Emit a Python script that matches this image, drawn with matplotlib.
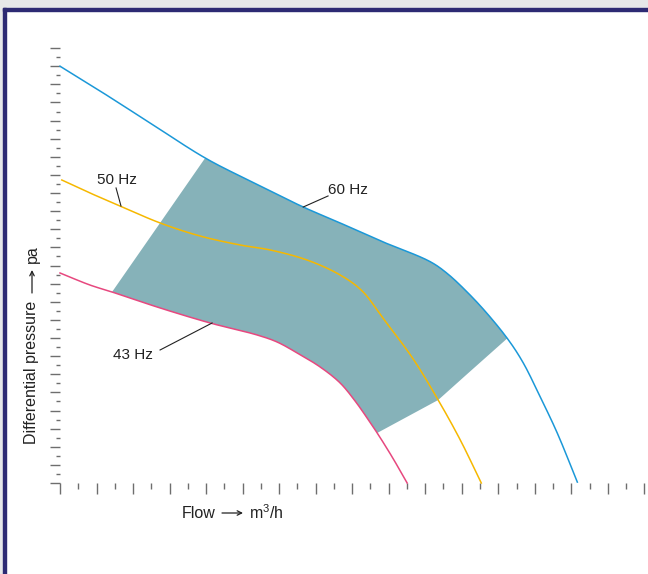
import numpy as np
import matplotlib
matplotlib.use("Agg")
import matplotlib.pyplot as plt
from matplotlib.patches import Rectangle

# pump curves, flow (x) vs differential pressure (y), in tick units
flow_60 = [0.0, 2.19, 4.93, 7.95, 10.41, 13.32, 15.34, 17.53,
           20.27, 21.19, 22.28, 23.38, 24.56, 25.37, 26.30, 27.23, 28.33]
dp_60 = [46.0, 43.27, 39.74, 35.87, 33.33, 30.46, 28.70, 26.74,
         24.43, 23.15, 21.11, 18.73, 15.78, 13.25, 9.49, 5.52, 0.1]

flow_50 = [0.1, 1.64, 3.29, 5.48, 7.67, 9.86, 11.51, 13.53, 15.34, 16.55, 17.64,
           19.34, 20.71, 21.92, 23.07]
dp_50 = [33.44, 32.01, 30.57, 28.70, 27.26, 26.27, 25.72, 24.61, 22.96, 21.19, 18.32,
         13.69, 9.16, 4.75, 0.0]

flow_43 = [0.0, 1.64, 2.85, 5.48, 8.22, 10.79, 11.89, 12.99, 14.25, 15.34, 16.16,
           16.82, 17.37, 18.19, 19.01]
dp_43 = [23.18, 21.85, 21.08, 19.32, 17.66, 16.34, 15.56, 14.35, 12.80, 11.04, 9.05,
         7.17, 5.52, 2.87, 0.0]

# operating range edges (minimum / maximum system curves)
left_flow = [5.48]
left_dp = [28.70]
right_flow = [20.71, 22.30]
right_dp = [9.16, 12.03]

range_lo = (2.85, 17.37)   # span on the 43 Hz curve
range_hi = (7.95, 24.56)   # span on the 60 Hz curve

labels = ["60 Hz", "50 Hz", "43 Hz"]


def smooth(xs, ys, n=16):
    """centripetal catmull-rom through the given points (for drawing only)"""
    p = np.column_stack([xs, ys]).astype(float)
    sc = np.array([18.25, 9.06])
    p = np.vstack([2 * p[0] - p[1], p, 2 * p[-1] - p[-2]])
    out = []
    for i in range(1, len(p) - 2):
        p0, p1, p2, p3 = p[i - 1], p[i], p[i + 1], p[i + 2]
        t0 = 0.0
        t1 = t0 + np.linalg.norm((p1 - p0) * sc) ** 0.5
        t2 = t1 + np.linalg.norm((p2 - p1) * sc) ** 0.5
        t3 = t2 + np.linalg.norm((p3 - p2) * sc) ** 0.5
        t = np.linspace(t1, t2, n, endpoint=False)[:, None]
        a1 = (t1 - t) / (t1 - t0) * p0 + (t - t0) / (t1 - t0) * p1
        a2 = (t2 - t) / (t2 - t1) * p1 + (t - t1) / (t2 - t1) * p2
        a3 = (t3 - t) / (t3 - t2) * p2 + (t - t2) / (t3 - t2) * p3
        b1 = (t2 - t) / (t2 - t0) * a1 + (t - t0) / (t2 - t0) * a2
        b2 = (t3 - t) / (t3 - t1) * a2 + (t - t1) / (t3 - t1) * a3
        out.append((t2 - t) / (t2 - t1) * b1 + (t - t1) / (t2 - t1) * b2)
    out.append(p[-2][None, :])
    c = np.vstack(out)
    return c[:, 0], c[:, 1]


plt.rcParams['font.family'] = ['Liberation Sans', 'DejaVu Sans']
plt.rcParams['mathtext.fontset'] = 'custom'
plt.rcParams['mathtext.rm'] = 'Liberation Sans'
plt.rcParams['mathtext.it'] = 'Liberation Sans'
TXT = '#222222'

fig = plt.figure(figsize=(6.48, 5.74), dpi=100)
fig.patch.set_facecolor('white')

# frame: grey strip + navy rule on top and left
fig.patches.append(Rectangle((0, 1 - 8/574), 1, 8/574, transform=fig.transFigure,
                             color='#e6e7e9', zorder=0))
fig.patches.append(Rectangle((0, 0), 3/648, 1, transform=fig.transFigure,
                             color='#e6e7e9', zorder=0))
fig.patches.append(Rectangle((3/648, 1 - 11/574), 1, 3/574, transform=fig.transFigure,
                             color='#2d2a73', zorder=1))
fig.patches.append(Rectangle((3/648, 0), 3/648, 1 - 8/574, transform=fig.transFigure,
                             color='#2d2a73', zorder=1))

ax = fig.add_axes([60/648, 91/574, 588/648, 463/574])
ax.set_xlim(0, 32.2)
ax.set_ylim(0, 51.1)
for s in ax.spines.values():
    s.set_visible(False)

ax.set_xticks(np.arange(0, 33, 2))
ax.set_xticks(np.arange(1, 33, 2), minor=True)
ax.set_yticks(np.arange(0, 49, 2))
ax.set_yticks(np.arange(1, 49, 2), minor=True)
ax.tick_params(axis='x', which='major', length=8, width=1, color='#6e6e6e', direction='out')
ax.tick_params(axis='x', which='minor', length=4, width=1, color='#6e6e6e', direction='out')
ax.tick_params(axis='y', which='major', length=7, width=1, color='#6e6e6e', direction='out')
ax.tick_params(axis='y', which='minor', length=3, width=1, color='#6e6e6e', direction='out')
ax.tick_params(labelbottom=False, labelleft=False)

sx60, sy60 = smooth(flow_60, dp_60)
sx50, sy50 = smooth(flow_50, dp_50)
sx43, sy43 = smooth(flow_43, dp_43)

# shaded operating range: 43 Hz bottom, straight right edge, 60 Hz top, left edge
m_lo = (sx43 >= range_lo[0]) & (sx43 <= range_lo[1])
m_hi = (sx60 >= range_hi[0]) & (sx60 <= range_hi[1])
poly_x = np.concatenate([sx43[m_lo], right_flow, sx60[m_hi][::-1], left_flow[::-1]])
poly_y = np.concatenate([sy43[m_lo], right_dp, sy60[m_hi][::-1], left_dp[::-1]])
ax.fill(poly_x, poly_y, color='#86b2b9', lw=0, zorder=1)

ax.plot(sx60, sy60, color='#1b98d8', lw=1.1, zorder=3, clip_on=False)
ax.plot(sx50, sy50, color='#f6b800', lw=1.1, zorder=3, clip_on=False)
ax.plot(sx43, sy43, color='#e7487f', lw=1.1, zorder=3, clip_on=False)

# curve labels with leader lines
ax.text(15.78, 32.34, labels[0], ha='center', va='center', fontsize=11, color=TXT)
ax.plot([13.32, 14.68], [30.46, 31.68], color=TXT, lw=0.8, zorder=4)
ax.text(3.12, 33.44, labels[1], ha='center', va='center', fontsize=11, color=TXT)
ax.plot([3.07, 3.34], [32.56, 30.57], color=TXT, lw=0.8, zorder=4)
ax.text(4.0, 14.13, labels[2], ha='center', va='center', fontsize=11, color=TXT)
ax.plot([5.48, 8.33], [14.68, 17.66], color=TXT, lw=0.8, zorder=4)

# axis titles with thin drawn arrows
arrow = dict(arrowstyle='->', color=TXT, lw=0.9, shrinkA=0, shrinkB=0,
             mutation_scale=8)
yb = (574 - 513) / 574
fig.text(182/648, yb, "Flow", ha='left', va='center', fontsize=11.5, color=TXT)
fig.add_artist(plt.Annotation('', xy=(243/648, yb), xytext=(222/648, yb),
                              xycoords='figure fraction', arrowprops=arrow))
fig.text(249/648, yb, "m$^{3}$/h", ha='left', va='center', fontsize=11.5, color=TXT)

xl = 32 / 648
fig.text(xl, (574-444)/574, "Differential pressure", ha='center', va='bottom',
         rotation=90, fontsize=11.5, color=TXT)
fig.add_artist(plt.Annotation('', xy=(xl, (574-270)/574), xytext=(xl, (574-293)/574),
                              xycoords='figure fraction', arrowprops=arrow))
fig.text(xl, (574-263)/574, "pa", ha='center', va='bottom', rotation=90,
         fontsize=11.5, color=TXT)

fig.savefig('out.png', dpi=100)
